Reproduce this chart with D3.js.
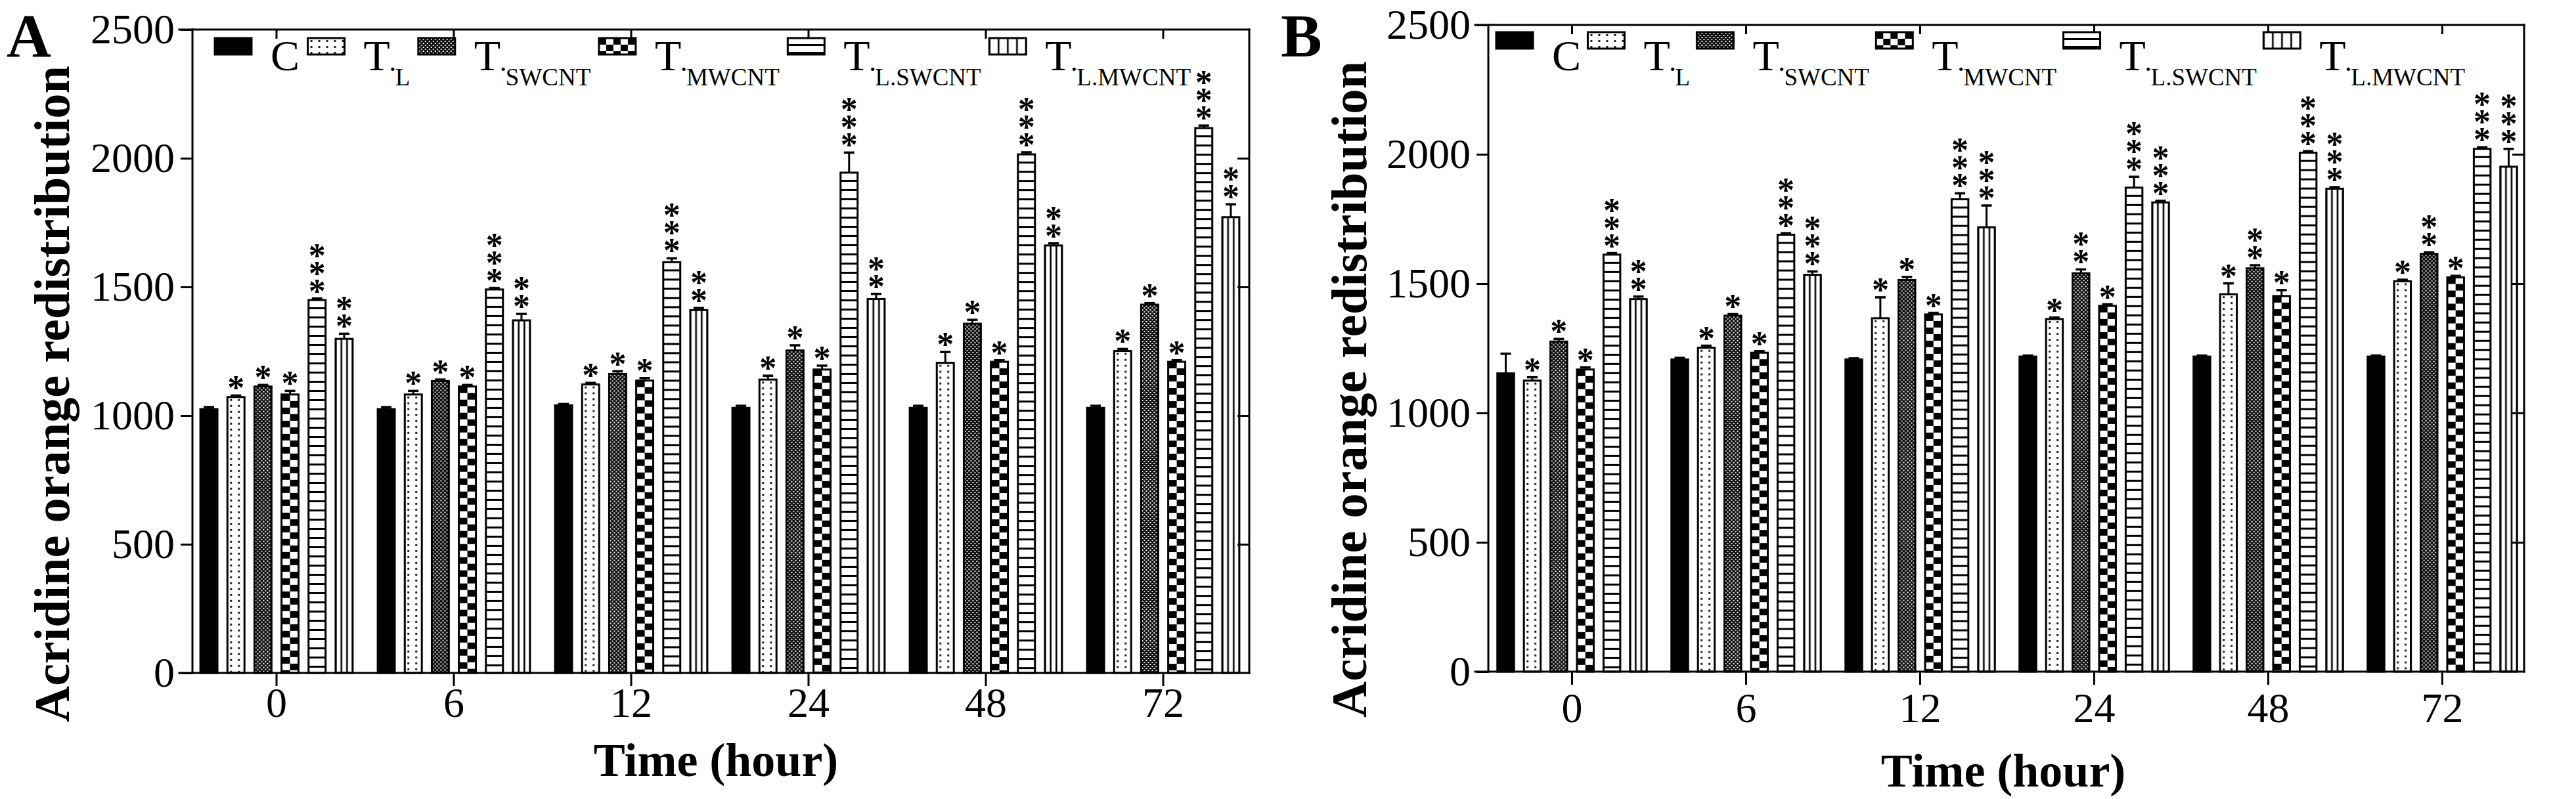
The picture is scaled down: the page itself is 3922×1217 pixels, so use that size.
<!DOCTYPE html>
<html><head><meta charset="utf-8">
<script src="https://cdn.jsdelivr.net/npm/d3@7"></script>
<style>html,body{margin:0;padding:0;background:#fff;} svg{display:block;}</style>
</head><body>
<svg id="chart" width="3922" height="1217"></svg>
<script>
// ---------- data ----------
const categories = ["0", "6", "12", "24", "48", "72"];
const seriesKeys = ["C", "TL", "TSW", "TMW", "TLSW", "TLMW"];
const seriesMain = ["C", "T", "T", "T", "T", "T"];
const seriesSub  = ["", "L", "SWCNT", "MWCNT", "L.SWCNT", "L.MWCNT"];
const yTicks = [0, 500, 1000, 1500, 2000, 2500];
const yTitle = "Acridine orange redistribution";
const xTitle = "Time (hour)";

// Panel A values (means)
const aC    = [1025, 1025, 1040, 1030, 1030, 1030];
const aTL   = [1072, 1082, 1121, 1140, 1205, 1251];
const aTSW  = [1113, 1134, 1162, 1253, 1357, 1431];
const aTMW  = [1082, 1113, 1136, 1179, 1209, 1209];
const aTLSW = [1449, 1490, 1596, 1944, 2015, 2117];
const aTLMW = [1298, 1370, 1410, 1453, 1661, 1771];
// Panel A errors
const aC_err    = [8, 8, 5, 8, 8, 8];
const aTL_err   = [6, 14, 6, 15, 42, 8];
const aTSW_err  = [6, 6, 10, 20, 15, 6];
const aTMW_err  = [14, 6, 10, 15, 6, 6];
const aTLSW_err = [6, 6, 15, 78, 8, 10];
const aTLMW_err = [20, 25, 8, 20, 8, 50];
// Panel A significance stars (count)
const aC_stars    = [0, 0, 0, 0, 0, 0];
const aTL_stars   = [1, 1, 1, 1, 1, 1];
const aTSW_stars  = [1, 1, 1, 1, 1, 1];
const aTMW_stars  = [1, 1, 1, 1, 1, 1];
const aTLSW_stars = [3, 3, 3, 3, 3, 3];
const aTLMW_stars = [2, 2, 2, 2, 2, 2];

// Panel B values (means)
const bC    = [1153, 1207, 1207, 1218, 1218, 1218];
const bTL   = [1125, 1252, 1366, 1363, 1459, 1509];
const bTSW  = [1276, 1376, 1514, 1540, 1559, 1615];
const bTMW  = [1168, 1233, 1381, 1414, 1452, 1524];
const bTLSW = [1612, 1689, 1826, 1871, 2006, 2021];
const bTLMW = [1440, 1534, 1718, 1814, 1867, 1952];
// Panel B errors
const bC_err    = [76, 6, 4, 4, 4, 4];
const bTL_err   = [13, 8, 81, 6, 42, 6];
const bTSW_err  = [10, 6, 12, 15, 12, 6];
const bTMW_err  = [8, 6, 6, 6, 23, 6];
const bTLSW_err = [6, 6, 23, 42, 6, 6];
const bTLMW_err = [10, 13, 84, 6, 6, 69];
// Panel B significance stars (count)
const bC_stars    = [0, 0, 0, 0, 0, 0];
const bTL_stars   = [1, 1, 1, 1, 1, 1];
const bTSW_stars  = [1, 1, 1, 2, 2, 2];
const bTMW_stars  = [1, 1, 1, 1, 1, 1];
const bTLSW_stars = [3, 3, 3, 3, 3, 3];
const bTLMW_stars = [2, 3, 3, 3, 3, 3];

// ---------- drawing ----------
const SERIF = "'Liberation Serif', 'Times New Roman', serif";
const svg = d3.select("#chart");
const defs = svg.append("defs");

function makeFill(id, type, x, y, w, h, legend) {
  if (type === 0) return "#000";
  const p = defs.append("pattern").attr("id", id).attr("patternUnits", "userSpaceOnUse");
  if (type === 1) { // sparse dots
    p.attr("x", x).attr("y", y).attr("width", 12).attr("height", 9);
    p.append("rect").attr("width", 12).attr("height", 9).attr("fill", "#fff");
    p.append("rect").attr("x", 4).attr("y", 3).attr("width", 3).attr("height", 3).attr("fill", "#222");
  } else if (type === 2) { // fine check
    p.attr("x", x).attr("y", y).attr("width", 6).attr("height", 6);
    p.append("rect").attr("width", 6).attr("height", 6).attr("fill", "#111");
    p.append("rect").attr("x", 1).attr("y", 1).attr("width", 2).attr("height", 2).attr("fill", "#fff");
    p.append("rect").attr("x", 4).attr("y", 4).attr("width", 2).attr("height", 2).attr("fill", "#ddd");
  } else if (type === 3) { // coarse checkerboard
    const cw = legend ? 11 : w / 2, ch = 10;
    p.attr("x", x).attr("y", y).attr("width", 2 * cw).attr("height", 2 * ch);
    p.append("rect").attr("width", 2 * cw).attr("height", 2 * ch).attr("fill", "#fff");
    p.append("rect").attr("width", cw).attr("height", ch).attr("fill", "#000");
    p.append("rect").attr("x", cw).attr("y", ch).attr("width", cw).attr("height", ch).attr("fill", "#000");
  } else if (type === 4) { // horizontal stripes
    const per = legend ? 12 : 14;
    p.attr("x", x).attr("y", y).attr("width", 10).attr("height", per);
    p.append("rect").attr("width", 10).attr("height", per).attr("fill", "#fff");
    p.append("rect").attr("y", per - 3).attr("width", 10).attr("height", 3).attr("fill", "#000");
  } else if (type === 5) { // vertical lines
    const per = legend ? w / 4 : w / 3;
    p.attr("x", x).attr("y", y).attr("width", per).attr("height", 10);
    p.append("rect").attr("width", per).attr("height", 10).attr("fill", "#fff");
    p.append("rect").attr("x", -1.2).attr("width", 2.6).attr("height", 10).attr("fill", "#000");
    p.append("rect").attr("x", per - 1.2).attr("width", 2.6).attr("height", 10).attr("fill", "#000");
  }
  return `url(#${id})`;
}

function drawPanel(cfg) {
  const g = svg.append("g");
  const y = d3.scaleLinear().domain([0, 2500]).range([cfg.y0, cfg.y1]);
  const x0 = d3.scaleBand().domain(categories).range(cfg.band).paddingInner(0.085).paddingOuter(0.0425);
  const x1 = d3.scaleBand().domain(seriesKeys).range([0, x0.bandwidth()]).paddingInner(0.37).paddingOuter(0.185);
  const bw = x1.bandwidth();

  // bars
  seriesKeys.forEach((s, si) => {
    const vals = cfg.values[si], errs = cfg.errs[si], stars = cfg.stars[si];
    categories.forEach((c, ci) => {
      const v = vals[ci], e = errs[ci];
      const bx = x0(c) + x1(s), by = y(v), bh = y(0) - y(v);
      const fill = makeFill(`p${cfg.name}${si}_${ci}`, si, bx, by, bw, bh, false);
      g.append("rect").attr("x", bx).attr("y", by).attr("width", bw).attr("height", bh)
        .attr("fill", fill).attr("stroke", "#000").attr("stroke-width", 3);
      // error bar
      const ey = y(v + e);
      g.append("line").attr("x1", bx + bw / 2).attr("x2", bx + bw / 2).attr("y1", by).attr("y2", ey)
        .attr("stroke", "#000").attr("stroke-width", 3);
      g.append("line").attr("x1", bx + bw / 2 - 8).attr("x2", bx + bw / 2 + 8).attr("y1", ey).attr("y2", ey)
        .attr("stroke", "#000").attr("stroke-width", 3.5);
      // stars (one text per stack)
      if (stars[ci] > 0) {
        const st = g.append("text").attr("text-anchor", "middle").attr("font-family", SERIF)
          .attr("font-weight", "bold").attr("font-size", 52).attr("fill", "#000");
        for (let k = 0; k < stars[ci]; k++) {
          const cy = ey - 19 - 27 * k;
          st.append("tspan").attr("x", bx + bw / 2).attr("y", cy + 25).text("*");
        }
      }
    });
  });

  // frame lines
  const L = cfg.axisX, R = cfg.rightX;
  const frame = [[L - 20, y(0), R, y(0)], [L - 20, y(2500), R, y(2500)], [L, y(2500), L, y(0)], [R, y(2500), R, y(0)]];
  frame.forEach(f => g.append("line").attr("x1", f[0]).attr("y1", f[1]).attr("x2", f[2]).attr("y2", f[3])
    .attr("stroke", "#000").attr("stroke-width", 3).attr("stroke-linecap", "square"));

  // axes
  const yAx = g.append("g").attr("transform", `translate(${L},0)`)
    .call(d3.axisLeft(y).tickValues(yTicks).tickSize(18).tickPadding(9).tickFormat(d3.format("d")));
  const xAx = g.append("g").attr("transform", `translate(0,${y(0)})`)
    .call(d3.axisBottom(x0).tickSize(20).tickPadding(cfg.xPad));
  const tAx = g.append("g").attr("transform", `translate(0,${y(2500)})`)
    .call(d3.axisTop(x0).tickSize(-14).tickFormat(""));
  const rAx = g.append("g").attr("transform", `translate(${R},0)`)
    .call(d3.axisRight(y).tickValues([500, 1000, 1500, 2000]).tickSize(-18).tickFormat(""));
  [yAx, xAx, tAx, rAx].forEach(a => {
    a.select(".domain").remove();
    a.selectAll("line").attr("stroke", "#000").attr("stroke-width", 3);
    a.selectAll("text").attr("font-family", SERIF).attr("font-size", 64).attr("fill", "#000");
  });
  tAx.selectAll("text").remove();
  rAx.selectAll("text").remove();

  // titles
  g.append("text").attr("transform", `translate(${cfg.yTitleX},${cfg.yTitleY}) rotate(-90)`)
    .attr("text-anchor", "middle").attr("font-family", SERIF).attr("font-weight", "bold")
    .attr("font-size", 76).attr("textLength", 1000).attr("lengthAdjust", "spacingAndGlyphs").text(yTitle);
  g.append("text").attr("x", cfg.xTitleX).attr("y", cfg.xTitleY).attr("text-anchor", "middle")
    .attr("font-family", SERIF).attr("font-weight", "bold").attr("font-size", 72).text(xTitle);
  g.append("text").attr("x", cfg.letterX).attr("y", 86).attr("font-family", SERIF).attr("font-weight", "bold")
    .attr("font-size", 94).text(cfg.name);

  // legend
  const items = seriesKeys.map((s, si) => {
    const t = g.append("text").attr("y", 107).attr("font-family", SERIF).attr("fill", "#000");
    t.append("tspan").attr("font-size", 66).text(seriesMain[si]);
    if (seriesSub[si]) {
      t.append("tspan").attr("font-size", 22).attr("dy", 6).text("\u2022");
      t.append("tspan").attr("font-size", 37).attr("dy", 17).text(seriesSub[si]);
    }
    return { t, w: t.node().getBBox().width };
  });
  const swW = 56, swH = 25, labOff = 85;
  const total = items.reduce((acc, it) => acc + labOff + it.w, 0);
  const gap = (cfg.legEnd - cfg.legStart - total) / (items.length - 1);
  let cx = cfg.legStart;
  items.forEach((it, si) => {
    const sy = cfg.legY;
    const fill = makeFill(`l${cfg.name}${si}`, si, cx, sy, swW, swH, true);
    g.append("rect").attr("x", cx).attr("y", sy).attr("width", swW).attr("height", swH)
      .attr("fill", fill).attr("stroke", "#000").attr("stroke-width", 3);
    it.t.attr("x", cx + labOff);
    cx += labOff + it.w + gap;
  });
}

drawPanel({
  name: "A", y0: 1025, y1: 45, band: [286, 1906], axisX: 293, rightX: 1902, xPad: 2,
  yTitleX: 105, yTitleY: 600, xTitleX: 1090, xTitleY: 1182, letterX: 10,
  legY: 58, legStart: 327, legEnd: 1813,
  values: [aC, aTL, aTSW, aTMW, aTLSW, aTLMW],
  errs: [aC_err, aTL_err, aTSW_err, aTMW_err, aTLSW_err, aTLMW_err],
  stars: [aC_stars, aTL_stars, aTSW_stars, aTMW_stars, aTLSW_stars, aTLMW_stars]
});
drawPanel({
  name: "B", y0: 1023, y1: 38, band: [2261, 3851], axisX: 2266, rightX: 3843, xPad: 12,
  yTitleX: 2080, yTitleY: 593, xTitleX: 3050, xTitleY: 1198, letterX: 1950,
  legY: 49, legStart: 2278, legEnd: 3753,
  values: [bC, bTL, bTSW, bTMW, bTLSW, bTLMW],
  errs: [bC_err, bTL_err, bTSW_err, bTMW_err, bTLSW_err, bTLMW_err],
  stars: [bC_stars, bTL_stars, bTSW_stars, bTMW_stars, bTLSW_stars, bTLMW_stars]
});
</script>
</body></html>
